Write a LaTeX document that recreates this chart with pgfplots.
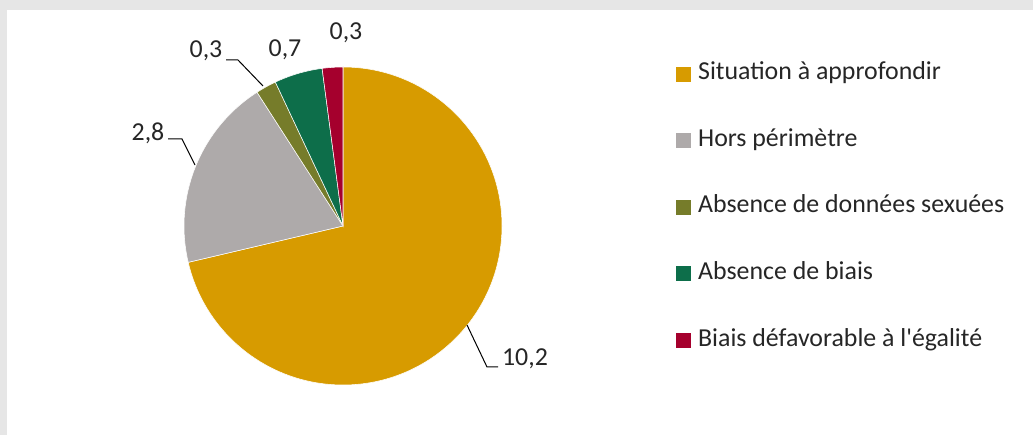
\documentclass[border=0pt]{standalone}
\usepackage{pgfplots}
\pgfplotsset{compat=1.18}
\usepackage{pgfplotstable}
\usepackage{fontspec}
\setmainfont{Carlito}

\definecolor{cSit}{RGB}{215,155,0}
\definecolor{cHors}{RGB}{174,170,170}
\definecolor{cAbsD}{RGB}{118,124,42}
\definecolor{cAbsB}{RGB}{13,110,74}
\definecolor{cBiais}{RGB}{165,0,45}
\definecolor{bandgray}{RGB}{230,230,230}
\definecolor{txt}{RGB}{38,38,38}

% values of the pie, in drawing order (clockwise from the top)
\pgfplotstableread{
val
10.2
2.8
0.3
0.7
0.3
}\piedata

\begin{document}
\begin{tikzpicture}
% frame: gray band on top and left
\fill[bandgray] (0,0) rectangle (774.75pt,326.25pt);
\fill[white] (5.25pt,0) rectangle (774.75pt,318.75pt);

% cumulative angles
\pgfplotstablegetelem{0}{val}\of\piedata\let\vA\pgfplotsretval
\pgfplotstablegetelem{1}{val}\of\piedata\let\vB\pgfplotsretval
\pgfplotstablegetelem{2}{val}\of\piedata\let\vC\pgfplotsretval
\pgfplotstablegetelem{3}{val}\of\piedata\let\vD\pgfplotsretval
\pgfplotstablegetelem{4}{val}\of\piedata\let\vE\pgfplotsretval
\pgfmathsetmacro\tot{\vA+\vB+\vC+\vD+\vE}
\pgfmathsetmacro\aA{90}
\pgfmathsetmacro\aB{\aA-360*\vA/\tot}
\pgfmathsetmacro\aC{\aB-360*\vB/\tot}
\pgfmathsetmacro\aD{\aC-360*\vC/\tot}
\pgfmathsetmacro\aE{\aD-360*\vD/\tot}
\pgfmathsetmacro\aF{\aE-360*\vE/\tot}

\begin{axis}[
  at={(0,0)}, anchor=south west,
  x=0.75pt, y=0.75pt,
  xmin=0, xmax=1033, ymin=0, ymax=435,
  hide axis, clip=false,
  legend style={at={(axis cs:676,374)}, anchor=north west, draw=none, fill=none,
    inner sep=0pt, row sep=30.9pt, font=\fontsize{19.4}{21}\selectfont, text=txt,
    nodes={text height=13pt, text depth=4pt, inner sep=1pt},
    /tikz/every odd column/.append style={column sep=4.5pt}},
  legend cell align=left,
  legend image code/.code={\fill[#1] (0pt,-5.25pt) rectangle (10.5pt,5.25pt);},
]
\def\R{119.25pt}
\fill[cSit, draw=white, line width=0.4pt] (axis cs:343,209) -- ++(\aA:\R) arc[start angle=\aA, end angle=\aB, radius=\R] -- cycle;
\fill[cHors, draw=white, line width=0.4pt] (axis cs:343,209) -- ++(\aB:\R) arc[start angle=\aB, end angle=\aC, radius=\R] -- cycle;
\fill[cAbsD, draw=white, line width=0.4pt] (axis cs:343,209) -- ++(\aC:\R) arc[start angle=\aC, end angle=\aD, radius=\R] -- cycle;
\fill[cAbsB, draw=white, line width=0.4pt] (axis cs:343,209) -- ++(\aD:\R) arc[start angle=\aD, end angle=\aE, radius=\R] -- cycle;
\fill[cBiais, draw=white, line width=0.4pt] (axis cs:343,209) -- ++(\aE:\R) arc[start angle=\aE, end angle=\aF, radius=\R] -- cycle;

\addlegendimage{cSit}\addlegendentry{Situation à approfondir}
\addlegendimage{cHors}\addlegendentry{Hors périmètre}
\addlegendimage{cAbsD}\addlegendentry{Absence de données sexuées}
\addlegendimage{cAbsB}\addlegendentry{Absence de biais}
\addlegendimage{cBiais}\addlegendentry{Biais défavorable à l\textquotesingle égalité}

% leader lines
\draw[black, line width=0.75pt] (axis cs:226,375) -- (axis cs:238,375) -- (axis cs:263,349);
\draw[black, line width=0.75pt] (axis cs:168,296) -- (axis cs:182,296) -- (axis cs:195,270);
\draw[black, line width=0.75pt] (axis cs:467,110) -- (axis cs:487,68) -- (axis cs:498,68);

% data labels
\begin{scope}[every node/.style={font=\fontsize{19.4}{21}\selectfont, text=txt, inner sep=0pt}]
\node at (axis cs:346,402) {0,3};
\node at (axis cs:285,385) {0,7};
\node at (axis cs:206,384) {0,3};
\node at (axis cs:148,302) {2,8};
\node at (axis cs:525,76) {10,2};
\end{scope}
\end{axis}
\end{tikzpicture}
\end{document}
